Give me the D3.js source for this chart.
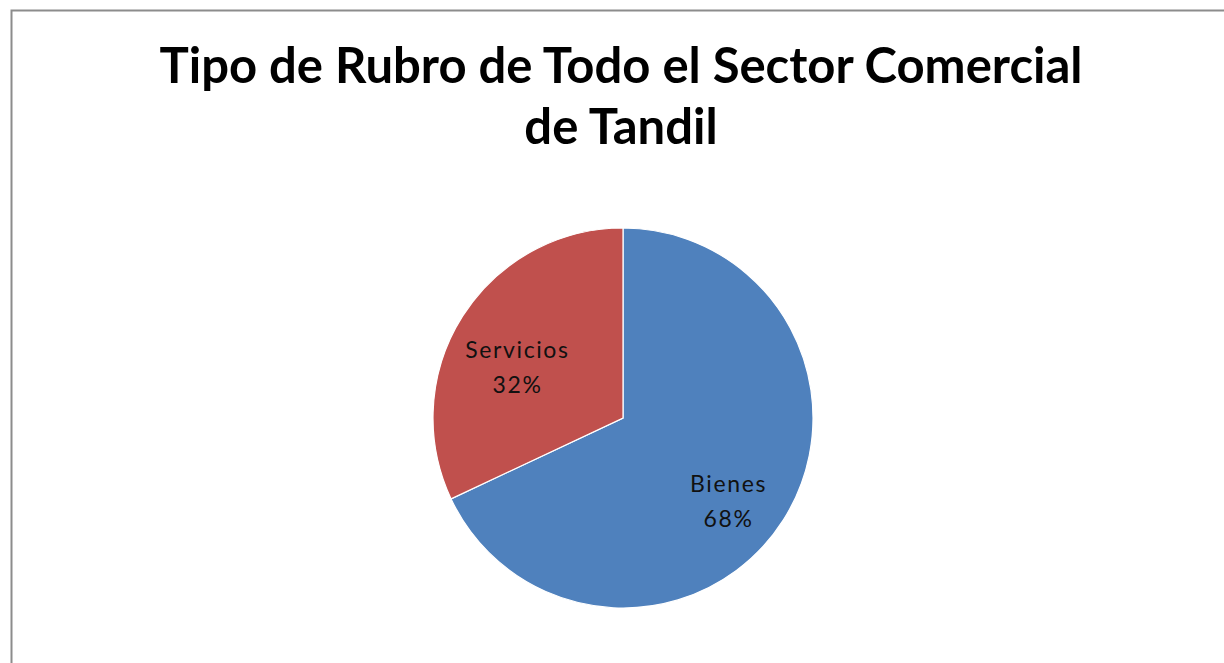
<!DOCTYPE html>
<html>
<head>
<meta charset="utf-8">
<script src="https://cdn.jsdelivr.net/npm/d3@7"></script>
<style>
  body { margin: 0; background: #fff; }
  svg { display: block; }
</style>
</head>
<body>
<div id="chart"></div>
<script>
// data
var categories = ["Bienes", "Servicios"];
var values = [68, 32];
var colors = ["#4F81BD", "#C0504D"];
var titleLines = ["Tipo de Rubro de Todo el Sector Comercial", "de Tandil"];

var width = 1224, height = 663;
var cx = 623, cy = 418, radius = 190;

var svg = d3.select("#chart").append("svg")
    .attr("width", width)
    .attr("height", height);

// chart frame (only left + top edges visible)
svg.append("path")
    .attr("d", "M11.5,663 L11.5,10.5 L1224,10.5")
    .attr("fill", "none")
    .attr("stroke", "#8c8c8c")
    .attr("stroke-width", 2);

// title
svg.selectAll("text.title")
  .data(titleLines)
  .enter()
  .append("text")
    .attr("class", "title")
    .attr("x", 621)
    .attr("y", function(d, i) { return 83 + i * 61; })
    .attr("text-anchor", "middle")
    .style("font-family", "Lato, 'Open Sans', sans-serif")
    .style("font-weight", "bold")
    .style("font-size", "49px")
    .style("fill", "#000")
    .text(function(d) { return d; });

var pie = d3.pie().sort(null).value(function(d) { return d; });
var arcs = pie(values);
var arc = d3.arc().innerRadius(0).outerRadius(radius);
var labelArc = d3.arc().innerRadius(125).outerRadius(125);

var g = svg.append("g").attr("transform", "translate(" + cx + "," + cy + ")");

g.selectAll("path.slice")
  .data(arcs)
  .enter()
  .append("path")
    .attr("class", "slice")
    .attr("d", arc)
    .style("fill", function(d, i) { return colors[i]; })
    .attr("stroke", "#fff")
    .attr("stroke-width", 1.2);

// labels: name + percent
var total = d3.sum(values);
var labels = g.selectAll("text.lbl")
  .data(arcs)
  .enter()
  .append("text")
    .attr("class", "lbl")
    .attr("text-anchor", "middle")
    .attr("transform", function(d) { var c = labelArc.centroid(d); return "translate(" + c[0] + "," + c[1] + ")"; })
    .style("font-family", "Lato, 'Open Sans', sans-serif")
    .style("font-size", "23px")
    .style("letter-spacing", "1.6px")
    .style("fill", "#111");

labels.append("tspan")
    .attr("x", 0)
    .attr("y", 7)
    .text(function(d, i) { return categories[i]; });
labels.append("tspan")
    .attr("x", 0)
    .attr("y", 42)
    .text(function(d) { return Math.round(d.value / total * 100) + "%"; });
</script>
</body>
</html>
